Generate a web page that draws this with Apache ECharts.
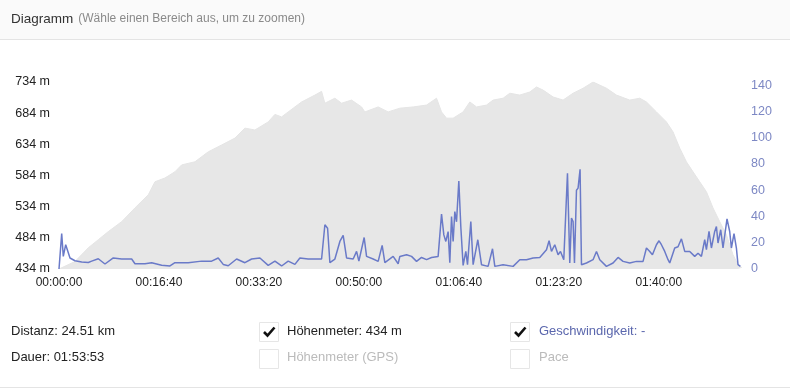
<!DOCTYPE html>
<html>
<head>
<meta charset="utf-8">
<script src="https://cdn.jsdelivr.net/npm/echarts@6/dist/echarts.min.js"></script>
<style>
html,body{margin:0;padding:0;background:#fff;}
#c{width:790px;height:389px;}
</style>
</head>
<body>
<div id="c"></div>
<script>
// Elevation profile (time in seconds, metres)
const elevTime = [0,160,293,393,493,627,760,893,960,1060,1160,1227,1360,1493,1627,1760,1860,1960,2093,2160,2227,2293,2427,2560,2627,2660,2760,2827,2927,3027,3060,3193,3293,3410,3543,3677,3777,3827,3877,3943,4043,4110,4177,4277,4343,4443,4510,4610,4710,4777,4843,4943,5043,5143,5243,5343,5410,5477,5577,5710,5810,5877,5977,6077,6143,6210,6277,6343,6410,6477,6543,6610,6677,6743,6793,6833];
const elevValue = [434,446,468,481,494,510,532,553,574,580,590,601,606,622,633,644,660,657,670,682,678,686,702,713,719,700,708,700,705,694,686,694,686,692,694,697,708,686,676,676,686,702,694,697,705,708,716,713,718,726,721,710,705,716,724,734,729,724,713,705,708,702,686,670,654,628,606,590,574,558,532,510,489,457,441,436];

// Speed (time in seconds, km/h)
const speedTime = [0,10,27,43,67,87,110,160,227,293,327,393,460,543,627,727,760,860,927,1027,1110,1160,1293,1427,1527,1593,1643,1693,1777,1860,1927,2010,2093,2160,2227,2293,2360,2410,2493,2627,2660,2687,2710,2760,2810,2843,2877,2943,2977,3000,3053,3077,3143,3193,3233,3260,3343,3393,3410,3477,3527,3577,3627,3677,3727,3793,3827,3850,3870,3893,3910,3927,3943,3960,3977,4000,4020,4043,4070,4087,4120,4143,4190,4227,4293,4337,4360,4443,4543,4610,4677,4743,4810,4877,4903,4927,4960,4993,5017,5050,5087,5110,5127,5143,5157,5177,5193,5213,5227,5277,5343,5377,5410,5477,5543,5593,5643,5710,5777,5843,5877,5910,5937,5977,6003,6027,6060,6093,6110,6160,6193,6227,6260,6310,6360,6393,6427,6460,6477,6503,6527,6560,6577,6593,6620,6643,6683,6710,6727,6753,6777,6793,6817];
const speedValue = [0,1,27,9.6,18.5,18,8.4,6.3,5.3,5,6,7.8,3.8,8.4,7.6,7.6,4,4,4.8,2.8,2.3,4.8,4.8,6,6,8.4,3.5,2.5,7.6,4.8,7.6,8.4,2.8,6,2.3,6,3.5,8.4,7.6,7.6,33.7,31,4.8,7.6,21,25.6,8.4,7.6,13.4,6,24,9.6,7.6,5.8,18,4.8,9.6,4,9.6,10.9,9.6,5.8,8.8,7.1,8.8,9.6,41.8,26,21,28.5,4.8,40,21,43.8,36,67,32,2.7,13.4,3.3,36.2,3.3,22.3,3.3,2,15.4,2,3.3,2,7.1,7.1,8.4,8.8,14.7,21.5,13.4,18.5,10.9,13.4,7.1,73,4.6,38.8,36.2,4.6,60,61.6,76,3.3,4.6,7.1,13.4,7.1,2,4.6,8.8,5.8,4.6,5.8,5.8,16,13.4,10.9,18.5,21.5,18.5,13.4,7.1,4.6,16,17,23,13.4,13.4,9.6,12,9.6,22.3,14.7,28.6,16,28.6,32.4,19.8,29.9,16,38.2,28.6,16,27,16,3.3,2];

// Tick labels
const xTickValues = [0,1000,2000,3000,4000,5000,6000];
const leftTickValues = [434,484,534,584,634,684,734];
const rightTickValues = [0,20,40,60,80,100,120,140];

const elevData = elevTime.map((t,i)=>[t, elevValue[i]]);
const speedData = speedTime.map((t,i)=>[t, speedValue[i]]);

function hms(s){
  const h = Math.floor(s/3600), m = Math.floor((s%3600)/60), sec = Math.round(s%60);
  const p = n => String(n).padStart(2,'0');
  return p(h)+':'+p(m)+':'+p(sec);
}

const FONT = '"Liberation Sans", Arial, sans-serif';
const chart = echarts.init(document.getElementById('c'), null, {renderer:'canvas'});

function checkbox(x, y, checked){
  const els = [{
    type:'rect', shape:{x:x, y:y, width:19, height:19},
    style:{fill:'#fff', stroke:'#e6e6e6', lineWidth:1}
  }];
  if (checked) {
    els.push({
      type:'polyline', shape:{points:[[x+4.5,y+9.5],[x+8,y+13],[x+15,y+5]]},
      style:{stroke:'#111', lineWidth:2.6, fill:null}
    });
  }
  return els;
}

chart.setOption({
  animation:false,
  backgroundColor:'#fff',
  textStyle:{fontFamily:FONT},
  title:{
    left:11, top:10, padding:0,
    text:'{a|Diagramm} {b|(Wähle einen Bereich aus, um zu zoomen)}',
    textStyle:{
      fontWeight:'normal',
      rich:{
        a:{fontSize:13.5, color:'#333', fontWeight:'normal', fontFamily:FONT},
        b:{fontSize:12, color:'#8a8a8a', fontWeight:'normal', fontFamily:FONT}
      }
    }
  },
  grid:{left:59, right:48, top:82, bottom:120},
  xAxis:{
    type:'value', min:0, max:6833,
    axisLine:{show:false}, axisTick:{show:false}, splitLine:{show:false},
    axisLabel:{customValues:xTickValues, formatter:v=>hms(v), color:'#222', fontSize:12, margin:8, fontFamily:FONT}
  },
  yAxis:[{
    type:'value', min:434, max:734, position:'left',
    axisLine:{show:false}, axisTick:{show:false}, splitLine:{show:false},
    axisLabel:{customValues:leftTickValues, formatter:v=>v+' m', color:'#222', fontSize:12.5, margin:9, fontFamily:FONT}
  },{
    type:'value', min:0, max:142.5, position:'right',
    axisLine:{show:false}, axisTick:{show:false}, splitLine:{show:false},
    axisLabel:{customValues:rightTickValues, color:'#7d88c4', fontSize:12.5, margin:9, fontFamily:FONT}
  }],
  series:[{
    type:'line', name:'Höhenmeter', yAxisIndex:0, data:elevData,
    symbol:'none', lineStyle:{width:1, color:'#e5e5e5'},
    areaStyle:{color:'#e7e7e7', opacity:1}, z:1, silent:true
  },{
    type:'line', name:'Geschwindigkeit', yAxisIndex:1, data:speedData,
    symbol:'none', lineStyle:{width:1.5, color:'#6a7ac8'}, z:2, silent:true
  }],
  graphic:[
    {type:'rect', shape:{x:0,y:0,width:790,height:39}, style:{fill:'#fafafa'}, z:-10},
    {type:'line', shape:{x1:0,y1:39.5,x2:790,y2:39.5}, style:{stroke:'#e4e4e4', lineWidth:1}},
    {type:'line', shape:{x1:0,y1:387.5,x2:790,y2:387.5}, style:{stroke:'#e4e4e4', lineWidth:1}},
    {type:'text', x:11, y:331, style:{text:'Distanz: 24.51 km', font:'13px '+FONT, fill:'#222', verticalAlign:'middle'}},
    {type:'text', x:11, y:357, style:{text:'Dauer: 01:53:53', font:'13px '+FONT, fill:'#222', verticalAlign:'middle'}},
    ...checkbox(259.5, 322.5, true),
    {type:'text', x:287, y:331, style:{text:'Höhenmeter: 434 m', font:'13px '+FONT, fill:'#222', verticalAlign:'middle'}},
    ...checkbox(259.5, 349.5, false),
    {type:'text', x:287, y:357, style:{text:'Höhenmeter (GPS)', font:'13px '+FONT, fill:'#bbbbbb', verticalAlign:'middle'}},
    ...checkbox(510.5, 322.5, true),
    {type:'text', x:539, y:331, style:{text:'Geschwindigkeit: -', font:'13px '+FONT, fill:'#5b67ad', verticalAlign:'middle'}},
    ...checkbox(510.5, 349.5, false),
    {type:'text', x:539, y:357, style:{text:'Pace', font:'13px '+FONT, fill:'#bbbbbb', verticalAlign:'middle'}}
  ]
});
</script>
</body>
</html>
